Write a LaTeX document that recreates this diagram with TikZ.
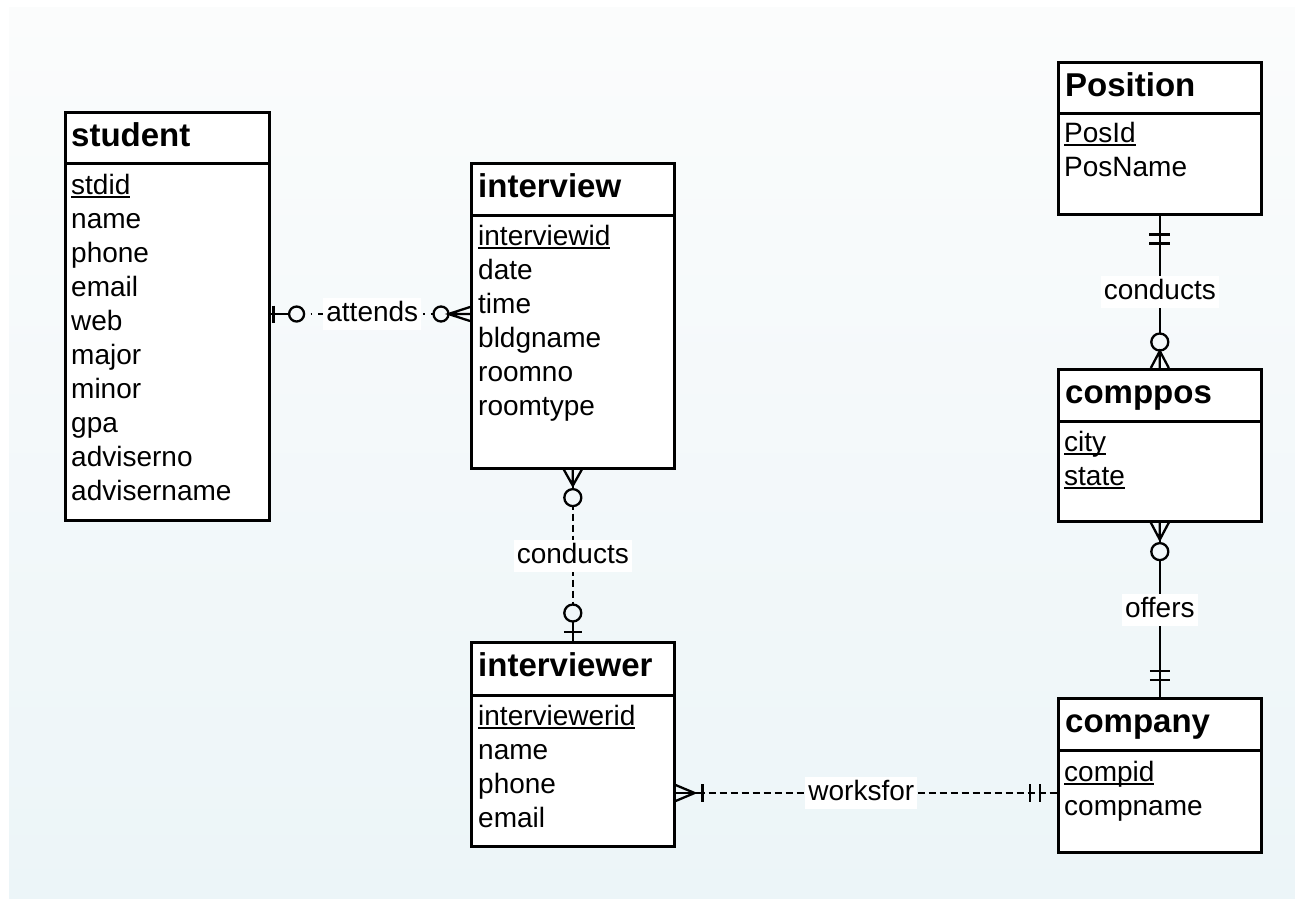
\documentclass[tikz,border=0pt]{standalone}
\usepackage{fontspec}
\setmainfont{Liberation Sans}
\definecolor{bgtop}{RGB}{251,252,252}
\definecolor{bgbot}{RGB}{236,245,248}
\newcommand\keyul[1]{\setbox0\hbox{#1}\rlap{\rule[-3.5pt]{\wd0}{1.7pt}}\box0}
\begin{document}
\begin{tikzpicture}[x=1pt,y=-1pt,
  ebox/.style={draw=black, fill=white, line width=2.6pt, inner sep=0pt, anchor=north west},
  ttl/.style={anchor=base west, inner sep=0pt, font=\fontsize{33}{40}\selectfont\bfseries},
  attr/.style={anchor=base west, inner sep=0pt, font=\fontsize{28}{34}\selectfont},
  lbl/.style={fill=white, inner xsep=3pt, inner ysep=3pt, text height=20pt, text depth=6pt, font=\fontsize{28}{34}\selectfont},
  rel/.style={line width=2.3pt, draw=black},
  dashrel/.style={rel, dash pattern=on 7pt off 4pt},
  dotrel/.style={rel, dash pattern=on 1.5pt off 6pt on 7pt off 8pt, dash phase=5pt}]
\useasboundingbox (0,0) rectangle (1295,898);
\fill[white] (0,0) rectangle (1295,898);
\shade[top color=bgtop, bottom color=bgbot] (9,7) rectangle (1295,898);

% ---- student
\node[ebox, minimum width=204pt, minimum height=357pt] (studentB) at (64,162) {};
\node[ebox, minimum width=204pt, minimum height=51pt] (studentH) at (64,111) {};
\node[ttl] (studentT) at (71,146.5) {student};
\foreach \t [count=\i from 0] in {\keyul{stdid},name,phone,email,web,major,minor,gpa,adviserno,advisername}
  \node[attr] (student-a\i) at (71,194+34*\i) {\t};

% ---- interview
\node[ebox, minimum width=203pt, minimum height=253pt] (interviewB) at (470,214) {};
\node[ebox, minimum width=203pt, minimum height=52pt] (interviewH) at (470,162) {};
\node[ttl] (interviewT) at (478,197.5) {interview};
\foreach \t [count=\i from 0] in {\keyul{interviewid},date,time,bldgname,roomno,roomtype}
  \node[attr] (interview-a\i) at (478,245+34*\i) {\t};

% ---- interviewer
\node[ebox, minimum width=203pt, minimum height=151pt] (interviewerB) at (470,694) {};
\node[ebox, minimum width=203pt, minimum height=53pt] (interviewerH) at (470,641) {};
\node[ttl] (interviewerT) at (478,676.5) {interviewer};
\foreach \t [count=\i from 0] in {\keyul{interviewerid},name,phone,email}
  \node[attr] (interviewer-a\i) at (478,725+34*\i) {\t};

% ---- Position
\node[ebox, minimum width=203pt, minimum height=101pt] (PositionB) at (1057,112) {};
\node[ebox, minimum width=203pt, minimum height=51pt] (PositionH) at (1057,61) {};
\node[ttl] (PositionT) at (1065,96.5) {Position};
\foreach \t [count=\i from 0] in {\keyul{PosId},PosName}
  \node[attr] (Position-a\i) at (1064,142.5+34*\i) {\t};

% ---- comppos
\node[ebox, minimum width=203pt, minimum height=100pt] (compposB) at (1057,420) {};
\node[ebox, minimum width=203pt, minimum height=52pt] (compposH) at (1057,368) {};
\node[ttl] (compposT) at (1065,403.5) {comppos};
\foreach \t [count=\i from 0] in {\keyul{city},\keyul{state}}
  \node[attr] (comppos-a\i) at (1064,451+34*\i) {\t};

% ---- company
\node[ebox, minimum width=203pt, minimum height=102pt] (companyB) at (1057,749) {};
\node[ebox, minimum width=203pt, minimum height=52pt] (companyH) at (1057,697) {};
\node[ttl] (companyT) at (1065,732.5) {company};
\foreach \t [count=\i from 0] in {\keyul{compid},compname}
  \node[attr] (company-a\i) at (1064,781+34*\i) {\t};

% ---- attends
\coordinate (attY) at (0,314);
\draw[dotrel] (studentB.east |- attY) -- (interviewB.west |- attY) node[lbl,pos=0.51] (attendsL) {attends};
\draw[rel] (studentB.east |- attY) -- ++(18.5,0);
\draw[rel] (studentB.east |- attY) ++(3,-8.5) -- ++(0,17);
\draw[rel, fill=bgbot!34!bgtop] (studentB.east |- attY) ++(26,0) circle[radius=7.5];
\draw[rel, fill=bgbot!34!bgtop] (interviewB.west |- attY) ++(-29,0) circle[radius=7.5];
\draw[rel] (interviewB.west |- attY) ++(0,-7) -- ++(-21.5,7) -- ++(21.5,7) ++(-21.5,-7) -- ++(21.5,0);

% ---- conducts (interview - interviewer)
\draw[dashrel] (interviewB.south) -- (interviewerH.north) node[lbl,pos=0.506] (conductsAL) {conducts};
\draw[rel] (interviewB.south) ++(-9,0) -- ++(9,16) -- ++(9,-16) ++(-9,16) -- ++(0,-16);
\draw[rel, fill=bgbot!55!bgtop] (interviewB.south) ++(0,28) circle[radius=8.5];
\draw[rel] (interviewerH.north) -- ++(0,-19.5);
\draw[rel] (interviewerH.north) ++(-9,-9) -- ++(18,0);
\draw[rel, fill=bgbot!68!bgtop] (interviewerH.north) ++(0,-28) circle[radius=8.5];

% ---- conducts (Position - comppos)
\draw[rel] (PositionB.south) -- (compposH.north) node[lbl,pos=0.503] (conductsBL) {conducts};
\draw[rel] (PositionB.south) ++(-10.5,19) -- ++(21,0);
\draw[rel] (PositionB.south) ++(-10.5,28) -- ++(21,0);
\draw[rel, fill=bgbot!38!bgtop] (compposH.north) ++(0,-26) circle[radius=8.5];
\draw[rel] (compposH.north) ++(-9,0) -- ++(9,-17) -- ++(9,17) ++(-9,-17) -- ++(0,17);

% ---- offers
\draw[rel] (compposB.south) -- (companyH.north) node[lbl,pos=0.503] (offersL) {offers};
\draw[rel] (compposB.south) ++(-9,0) -- ++(9,17) -- ++(9,-17) ++(-9,17) -- ++(0,-17);
\draw[rel, fill=bgbot!61!bgtop] (compposB.south) ++(0,29) circle[radius=8.5];
\draw[rel] (companyH.north) ++(-10,-26) -- ++(20,0);
\draw[rel] (companyH.north) ++(-10,-17) -- ++(20,0);

% ---- worksfor
\coordinate (wfY) at (0,793);
\draw[dashrel] (interviewerB.east |- wfY) -- (companyB.west |- wfY) node[lbl,pos=0.487] (worksforL) {worksfor};
\draw[rel] (interviewerB.east |- wfY) -- ++(27,0);
\draw[rel] (interviewerB.east |- wfY) ++(0,-8) -- ++(19,8) -- ++(-19,8);
\draw[rel] (interviewerB.east |- wfY) ++(27,-9) -- ++(0,18);
\draw[rel] (companyB.west |- wfY) ++(-27,-9) -- ++(0,18);
\draw[rel] (companyB.west |- wfY) ++(-17,-9) -- ++(0,18);
\end{tikzpicture}
\end{document}
